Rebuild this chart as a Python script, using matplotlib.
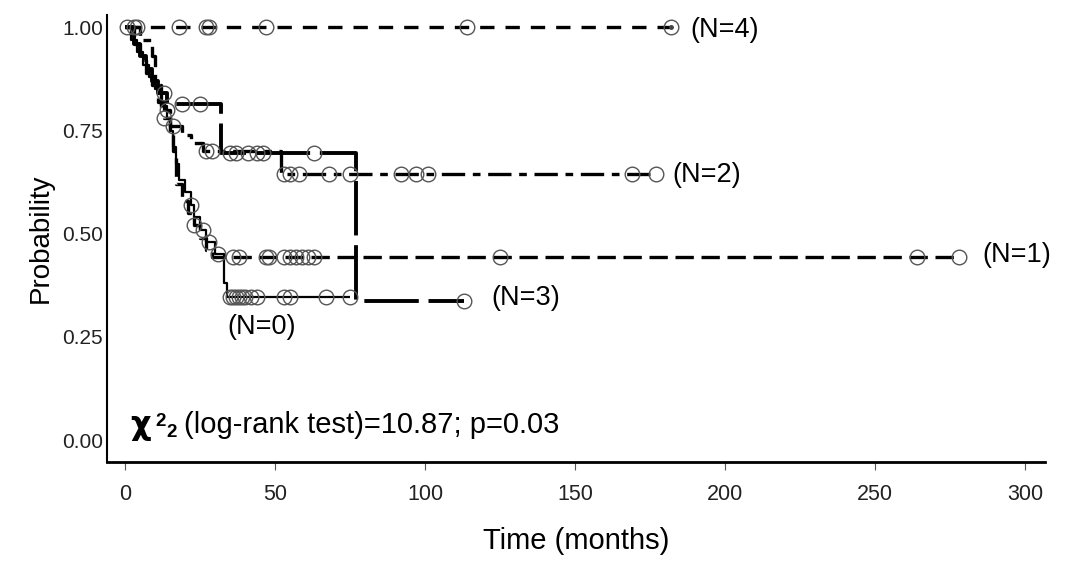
import numpy as np
import matplotlib
matplotlib.use("Agg")
import matplotlib.pyplot as plt

# ---------------- data ----------------
groups = ["N=0", "N=1", "N=2", "N=3", "N=4"]

n0_times = [0, 2, 4, 6, 8, 10, 12, 14, 15, 16, 17, 18, 20, 22, 23, 25, 27, 30, 33, 34]
n0_surv = [1.0, 0.97, 0.94, 0.91, 0.88, 0.85, 0.81, 0.78, 0.75, 0.71, 0.67, 0.63,
           0.60, 0.57, 0.54, 0.51, 0.48, 0.45, 0.38, 0.346]
n0_end = 75
n0_cens = [22, 26, 28, 31, 35, 36, 37, 38, 39, 40, 42, 44, 53, 55, 67, 75]

n1_times = [0, 3, 5, 7, 9, 11, 13, 15, 16, 17, 19, 21, 23, 25, 27, 29]
n1_surv = [1.0, 0.96, 0.92, 0.89, 0.86, 0.82, 0.78, 0.74, 0.70, 0.62, 0.58, 0.55,
           0.52, 0.49, 0.46, 0.443]
n1_end = 278
n1_cens = [13, 23, 36, 38, 47, 48, 53, 55, 57, 59, 61, 63, 125, 264, 278]

n2_times = [0, 5, 9, 10, 12, 15, 19, 22, 26, 52]
n2_surv = [1.0, 0.97, 0.93, 0.86, 0.80, 0.76, 0.74, 0.72, 0.70, 0.644]
n2_end = 177
n2_cens = [3, 14, 16, 27, 29, 53, 55, 58, 68, 75, 92, 97, 101, 169, 177]

n3_times = [0, 3, 5, 7, 9, 11, 14, 32, 77]
n3_surv = [1.0, 0.96, 0.93, 0.90, 0.87, 0.84, 0.815, 0.695, 0.337]
n3_end = 113
n3_cens = [13, 19, 25, 35, 37, 41, 44, 46, 63, 113]

n4_times = [0]
n4_surv = [1.0]
n4_end = 182
n4_cens = [0.7, 4, 18, 27, 28, 47, 114, 182]

chi_text = "(log-rank test)=10.87; p=0.03"
x_ticks = [0, 50, 100, 150, 200, 250, 300]
y_ticks = [0.00, 0.25, 0.50, 0.75, 1.00]

# ---------------- figure ----------------
plt.rcParams['font.family'] = ['Liberation Sans', 'DejaVu Sans']
W, H = 1068, 568
fig = plt.figure(figsize=(W / 100, H / 100), dpi=100)
ax = fig.add_axes([107 / W, 1 - 462 / H, (1045 - 107) / W, (462 - 15) / H])
ax.set_xlim(-6, 306.7)
ax.set_ylim(-0.053, 1.03)

styles = {
    "N=0": dict(lw=1.6, ls='-'),
    "N=1": dict(lw=2.4, ls=(0, (5.5, 2.3))),
    "N=2": dict(lw=2.4, ls=(0, (7, 2.3, 2.3, 2.3))),
    "N=3": dict(lw=2.8, ls=(0, (14, 2.5))),
    "N=4": dict(lw=2.4, ls=(0, (4.3, 3.3))),
}
data = {
    "N=0": (n0_times, n0_surv, n0_end, n0_cens),
    "N=1": (n1_times, n1_surv, n1_end, n1_cens),
    "N=2": (n2_times, n2_surv, n2_end, n2_cens),
    "N=3": (n3_times, n3_surv, n3_end, n3_cens),
    "N=4": (n4_times, n4_surv, n4_end, n4_cens),
}

for g in groups:
    t, s, end, cens = data[g]
    tt = list(t) + [end]
    ss = list(s) + [s[-1]]
    ax.step(tt, ss, where='post', color='black', solid_capstyle='butt',
            dash_capstyle='butt', zorder=3, **styles[g])
    t_arr = np.asarray(t, float)
    s_arr = np.asarray(s, float)
    c = np.asarray(cens, float)
    idx = np.searchsorted(t_arr, c, side='right') - 1
    ax.plot(c, s_arr[idx], ls='none', marker='o', ms=10.5, mfc='none',
            mec='#555555', mew=1.0, zorder=4)

# dot inside last N=4 censor marker
ax.plot([n4_cens[-1]], [n4_surv[-1]], ls='none', marker='o', ms=2.5,
        color='#444444', zorder=5)

# group labels
label_pos = {"N=4": (188.5, 0.993), "N=2": (182.5, 0.642), "N=1": (285.8, 0.448),
             "N=3": (122.3, 0.344), "N=0": (34.0, 0.274)}
for g in groups:
    x, y = label_pos[g]
    ax.text(x, y, f"({g})", fontsize=19.5, ha='left', va='center', color='black')

# chi-square annotation (in figure pixels)
def fx(px):
    return px / W

def fy(py):
    return 1 - py / H

fig.text(fx(130), fy(434), "χ", fontsize=23, fontweight='bold', ha='left', va='baseline',
         family=['DejaVu Sans'])
fig.text(fx(155), fy(426), "2", fontsize=13.5, fontweight='bold', ha='left', va='baseline')
fig.text(fx(166), fy(437), "2", fontsize=13.5, fontweight='bold', ha='left', va='baseline')
fig.text(fx(184), fy(433), chi_text, fontsize=21, ha='left', va='baseline')

# axes styling
for sp in ['top', 'right']:
    ax.spines[sp].set_visible(False)
ax.spines['left'].set_linewidth(1.5)
ax.spines['bottom'].set_linewidth(2.0)
ax.set_xticks(x_ticks)
ax.set_xticklabels([str(v) for v in x_ticks])
ax.set_yticks(y_ticks)
ax.set_yticklabels([f"{v:.2f}" for v in y_ticks])
ax.tick_params(axis='x', length=6, width=0.8, color='#555555', labelsize=15.5, pad=10,
               labelcolor='#222222')
ax.tick_params(axis='y', length=0, labelsize=15, pad=3, labelcolor='#222222')
ax.set_xlabel("Time (months)", fontsize=21, labelpad=16)
ax.set_ylabel("Probability", fontsize=20, labelpad=6)

fig.savefig("out.png", dpi=100)
